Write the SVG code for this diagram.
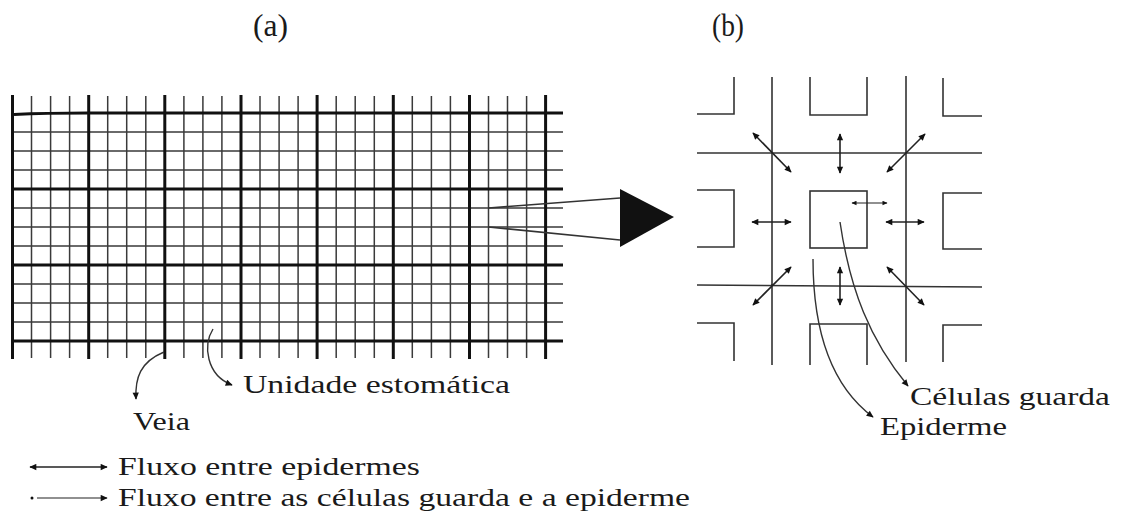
<svg xmlns="http://www.w3.org/2000/svg" width="1122" height="528" viewBox="0 0 1122 528">
<style>
text{font-family:"Liberation Serif","DejaVu Serif",serif;fill:#1a1a1a}
.thin{stroke:#3a3a3a;stroke-width:1.5;fill:none}
.thick{stroke:#111;stroke-width:3;fill:none}
.ln{stroke:#333;stroke-width:1.6;fill:none}
.arr{stroke:#222;stroke-width:1.6;fill:none;marker-start:url(#ah);marker-end:url(#ah)}
.arrs{stroke:#222;stroke-width:1.1;fill:none;marker-start:url(#ahs);marker-end:url(#ahs)}
.lead{stroke:#333;stroke-width:1.4;fill:none;marker-end:url(#ah)}
</style>
<defs>
<marker id="ah" viewBox="0 0 10 10" refX="9" refY="5" markerWidth="9" markerHeight="7" markerUnits="userSpaceOnUse" orient="auto-start-reverse"><path d="M0,0.5 L10,5 L0,9.5 z" fill="#111"/></marker>
<marker id="ahs" viewBox="0 0 10 10" refX="9" refY="5" markerWidth="7" markerHeight="5" markerUnits="userSpaceOnUse" orient="auto-start-reverse"><path d="M0,0.5 L10,5 L0,9.5 z" fill="#111"/></marker>
</defs>
<rect width="1122" height="528" fill="#fff"/>

<g id="label-a"><text x="253" y="36" font-size="31" textLength="35" lengthAdjust="spacingAndGlyphs">(a)</text></g>
<g id="label-b"><text x="712" y="36" font-size="31" textLength="32" lengthAdjust="spacingAndGlyphs">(b)</text></g>

<g id="grid-a">
<path class="thin" d="M31.5,96V358M50.6,96V358M69.6,96V358M107.7,96V358M126.7,96V358M145.8,96V358M183.9,96V358M202.9,96V358M221.9,96V358M260,96V358M279.1,96V358M298.1,96V358M336.2,96V358M355.2,96V358M374.3,96V358M412.3,96V358M431.4,96V358M450.4,96V358M488.5,96V358M507.5,96V358M526.6,96V358"/>
<path class="thin" d="M14,132H563M14,151H563M14,170H563M14,208H563M14,227H563M14,246H563M14,284H563M14,303H563M14,322H563"/>
<path class="thick" d="M12.5,95V359M88.7,95V359M164.8,95V359M241,95V359M317.1,95V359M393.3,95V359M469.5,95V359M545.6,95V359"/>
<path class="thick" d="M14,114.5Q45,113 88,113H563M12.5,189H563M12.5,265H563M12.5,341H563"/>
</g>

<g id="magnifier">
<path class="ln" d="M488.5,208L620,198M488.5,227L620,240"/>
<polygon points="620,189 674,217 620,247" fill="#111"/>
</g>

<g id="panel-b">
<path class="ln" d="M772,77V365M906,76V362M697,153H982M697,285L982,287"/>
<path class="ln" d="M697,114H734V77M810,77V115H867V77M943,78V116H982"/>
<path class="ln" d="M697,190H734V247H697M982,193H943V249H982"/>
<rect class="ln" x="810" y="191" width="57" height="57"/>
<path class="ln" d="M697,323H734V361M810,365V324H867V365M982,325H943V362"/>
</g>

<g id="connectors">
<path class="arr" d="M753,133L791,172"/>
<path class="arr" d="M840,134V173"/>
<path class="arr" d="M887,172L925,134"/>
<path class="arr" d="M752,222H791"/>
<path class="arr" d="M886,222H924"/>
<path class="arr" d="M753,305L791,267"/>
<path class="arr" d="M840,267V305"/>
<path class="arr" d="M887,267L924,305"/>
<path class="arrs" d="M852,203H887"/>
<path class="lead" d="M840,222C850,290 870,340 908,386"/>
<path class="lead" d="M813,259C813,330 830,385 873,417"/>
<path class="lead" d="M164,352C140,362 135,378 136,399"/>
<path class="lead" d="M213,329C203,345 206,375 232,385"/>
</g>

<g id="labels">
<text x="243" y="393" font-size="26" textLength="267" lengthAdjust="spacingAndGlyphs">Unidade estomática</text>
<text x="133" y="430" font-size="26" textLength="57" lengthAdjust="spacingAndGlyphs">Veia</text>
<text x="910" y="405" font-size="26" textLength="200" lengthAdjust="spacingAndGlyphs">Células guarda</text>
<text x="880" y="435" font-size="26" textLength="127" lengthAdjust="spacingAndGlyphs">Epiderme</text>
</g>

<g id="legend">
<path class="arr" d="M30,467H107"/>
<path d="M37,498H107" stroke="#222" stroke-width="1.1" fill="none" marker-end="url(#ah)"/>
<circle cx="32" cy="498" r="1.5" fill="#111"/>
<text x="118" y="475" font-size="26" textLength="302" lengthAdjust="spacingAndGlyphs">Fluxo entre epidermes</text>
<text x="118" y="506" font-size="26" textLength="572" lengthAdjust="spacingAndGlyphs">Fluxo entre as células guarda e a epiderme</text>
</g>
</svg>
